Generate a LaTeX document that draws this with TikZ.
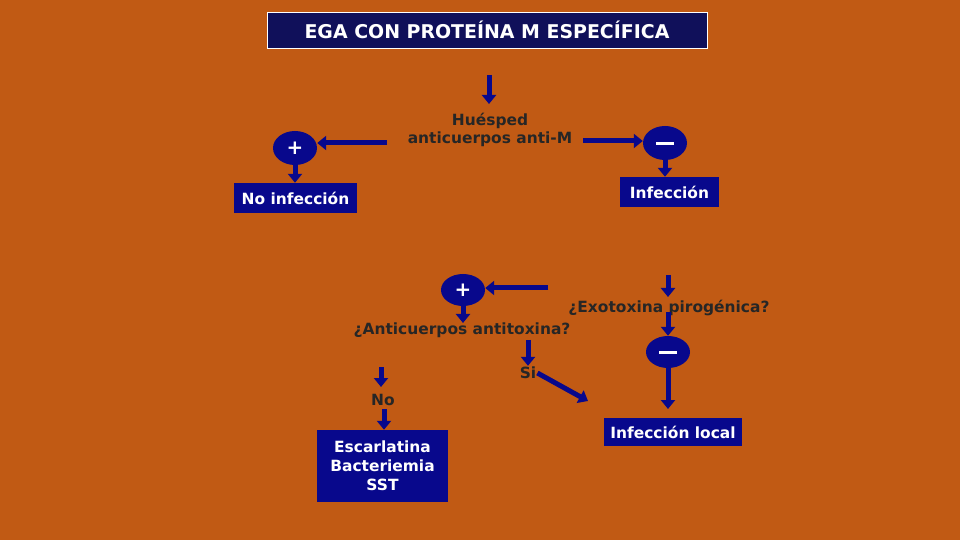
\documentclass[tikz,border=0pt]{standalone}
\usepackage{fontspec}
\setmainfont{DejaVu Sans}
\usetikzlibrary{arrows.meta,shapes.geometric}
\definecolor{bg}{RGB}{193,90,20}
\definecolor{bl}{RGB}{8,8,140}
\definecolor{tt}{RGB}{16,16,90}
\tikzset{
 bx/.style={fill=bl,text=white,font=\bfseries\fontsize{15.5}{19}\selectfont,inner sep=4bp,align=center},
 ov/.style={ellipse,fill=bl,text=white,minimum width=44bp,minimum height=34bp,font=\bfseries\fontsize{20}{20}\selectfont,inner sep=0},
 tx/.style={text=black!85,font=\bfseries\fontsize{15.5}{18}\selectfont,align=center,inner sep=1bp},
 ar/.style={draw=bl,line width=5bp,-{Triangle[width=14bp,length=9bp]}}
}
\newcommand{\mbar}{\raisebox{-5bp}{\rule{18bp}{3bp}}}
\begin{document}
\begin{tikzpicture}[x=1bp,y=-1bp]
\fill[bg] (0,0) rectangle (960,540);
\useasboundingbox (0,0) rectangle (960,540);
\node[fill=tt,draw=white,line width=0.6bp,text=white,font=\bfseries\fontsize{19}{22}\selectfont,minimum width=440bp,minimum height=36bp] (title) at (487,30) {EGA CON PROTEÍNA M ESPECÍFICA};
\coordinate (a0) at (489,75);
\coordinate (a1) at (489,104);
\node[tx] (hue) at (490,130) {Huésped\\anticuerpos anti-M};
\draw[ar] (a0) -- (a1);
\node[ov] (p1) at (295,148) {+};
\node[ov] (m1) at (665,143) {\mbar};
\coordinate (hl) at (387,143);
\coordinate (hr) at (583,141);
\draw[ar] (hl) -- (hl-|p1.east);
\draw[ar] (hr) -- (hr-|m1.west);
\node[bx,minimum width=123bp,minimum height=30bp] (noinf) at (295.5,198) {No infección};
\node[bx,minimum width=99bp,minimum height=30bp] (inf) at (669.5,192) {Infección};
\draw[ar] ([yshift=2bp]p1.south) -- (noinf.north-|p1);
\draw[ar] ([yshift=2bp]m1.south) -- (inf.north-|m1);
% lower
\node[ov,minimum height=32bp] (p2) at (463,290) {+};
\coordinate (pl) at (548,288);
\draw[ar] (pl) -- (pl-|p2.east);
\node[tx] (exo) at (669,308) {¿Exotoxina pirogénica?};
\coordinate (e0) at (668,275);
\draw[ar] (e0) -- (668,297);
\node[ov,minimum height=32bp] (m2) at (668,352) {\mbar};
\draw[ar] (668,312) -- (m2.north);
\node[bx,minimum width=138bp,minimum height=28bp] (loc) at (673,432) {Infección local};
\coordinate (lt) at (668,409);
\draw[ar] (m2.south) -- (lt);
\node[tx] (anti) at (462,330) {¿Anticuerpos antitoxina?};
\draw[ar] ([yshift=1bp]p2.south) -- (463,323);
\node[tx] (si) at (528,373) {Si};
\draw[ar] (528,340) -- (si.north);
\coordinate (sie) at (588,401);
\draw[ar] (si.east) -- (sie);
\node[tx] (no) at (383,400) {No};
\draw[ar] (381,367) -- (381,387);
\node[bx,minimum width=131bp,minimum height=72bp] (esc) at (382.5,466) {Escarlatina\\Bacteriemia\\SST};
\draw[ar] (384,409) -- (esc.north-|384,0);
\end{tikzpicture}
\end{document}
